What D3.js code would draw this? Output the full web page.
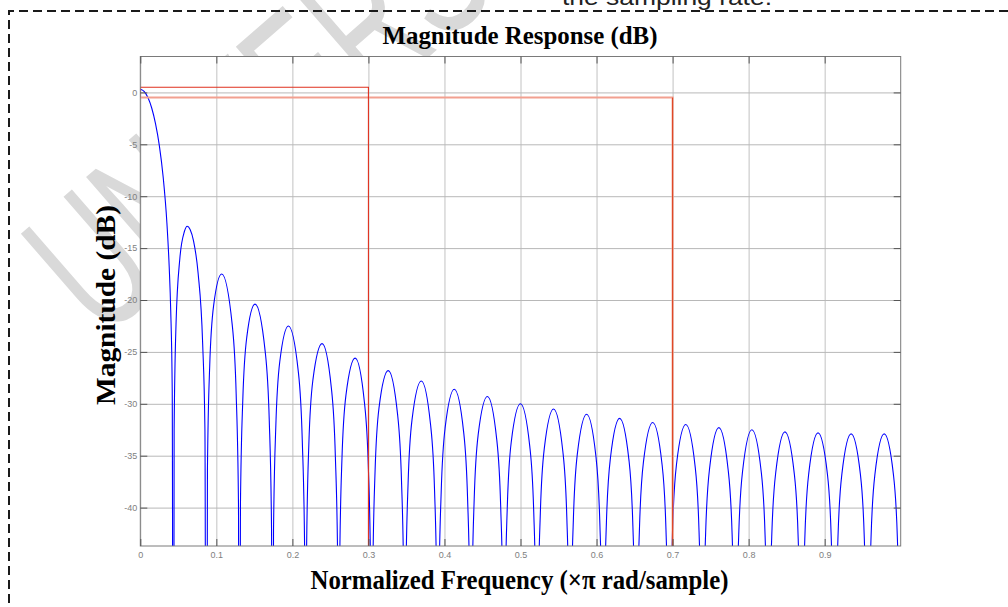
<!DOCTYPE html>
<html><head><meta charset="utf-8">
<script src="https://cdn.jsdelivr.net/npm/d3@7"></script>
<style>html,body{margin:0;padding:0;background:#fff;overflow:hidden}</style>
</head><body>
<svg id="c" width="1008" height="607"></svg>
<script>
// ---- data ----
const xTicks = [0, 0.1, 0.2, 0.3, 0.4, 0.5, 0.6, 0.7, 0.8, 0.9];
const yTicks = [0, -5, -10, -15, -20, -25, -30, -35, -40];
const xDomain = [0, 1];
const yDomain = [-43.7, 3.46];

// magnitude response samples (normalized frequency, dB); nulls drawn below the axis floor
const freq = [
  0, 0.005, 0.01, 0.015, 0.02, 0.025, 0.03, 0.035, 0.038, 0.04, 0.042, 0.0435,
  0.0445, 0.047, 0.052, 0.058, 0.0617, 0.0655, 0.070, 0.076, 0.082, 0.085, 0.0870,
  0.0883, 0.0913, 0.0965, 0.1070, 0.1209, 0.1261, 0.1291, 0.1304,
  0.1317, 0.1348, 0.1400, 0.1509, 0.1643, 0.1696, 0.1726, 0.1739,
  0.1752, 0.1783, 0.1835, 0.1948, 0.2078, 0.2130, 0.2161, 0.2174,
  0.2187, 0.2217, 0.2270, 0.2391, 0.2513, 0.2565, 0.2596, 0.2609,
  0.2622, 0.2652, 0.2704, 0.2826, 0.2948, 0.3000, 0.3030, 0.3043,
  0.3057, 0.3087, 0.3139, 0.3261, 0.3383, 0.3435, 0.3465, 0.3478,
  0.3491, 0.3522, 0.3574, 0.3696, 0.3817, 0.3870, 0.3900, 0.3913,
  0.3926, 0.3957, 0.4009, 0.4130, 0.4252, 0.4304, 0.4335, 0.4348,
  0.4361, 0.4391, 0.4443, 0.4565, 0.4687, 0.4739, 0.4770, 0.4783,
  0.4796, 0.4826, 0.4878, 0.5000, 0.5122, 0.5174, 0.5204, 0.5217,
  0.5230, 0.5261, 0.5313, 0.5435, 0.5557, 0.5609, 0.5639, 0.5652,
  0.5665, 0.5696, 0.5748, 0.5870, 0.5991, 0.6043, 0.6074, 0.6087,
  0.6100, 0.6130, 0.6183, 0.6304, 0.6426, 0.6478, 0.6509, 0.6522,
  0.6535, 0.6565, 0.6617, 0.6739, 0.6861, 0.6913, 0.6943, 0.6957,
  0.6970, 0.7000, 0.7052, 0.7174, 0.7296, 0.7348, 0.7378, 0.7391,
  0.7404, 0.7435, 0.7487, 0.7609, 0.7730, 0.7783, 0.7813, 0.7826,
  0.7839, 0.7870, 0.7922, 0.8043, 0.8165, 0.8217, 0.8248, 0.8261,
  0.8274, 0.8304, 0.8357, 0.8478, 0.8600, 0.8652, 0.8683, 0.8696,
  0.8709, 0.8739, 0.8791, 0.8913, 0.9035, 0.9087, 0.9117, 0.9130,
  0.9143, 0.9174, 0.9226, 0.9348, 0.9470, 0.9522, 0.9552, 0.9565,
  0.9578, 0.9609, 0.9661, 0.9783, 0.9904, 0.9957, 0.9987, 1.0
];
const magDb = [
  0.3, 0.1, -0.5, -1.5, -3.0, -5.1, -8.1, -12.6, -16.8, -21.0, -28.8, -90,
  -32.5, -22.3, -16.0, -13.4, -12.9, -13.2, -14.3, -17.4, -24.2, -32.5, -90,
  -36.3, -26.3, -20.5, -17.5, -22.4, -29.1, -39.6, -90,
  -39.8, -29.6, -23.6, -20.4, -25.0, -31.6, -42.1, -90,
  -42.2, -32.0, -25.9, -22.5, -26.9, -33.5, -43.9, -90,
  -44.0, -33.8, -27.7, -24.2, -28.5, -35.0, -45.4, -90,
  -45.5, -35.3, -29.2, -25.6, -29.9, -36.3, -46.7, -90,
  -46.8, -36.6, -30.4, -26.8, -31.0, -37.4, -47.8, -90,
  -47.9, -37.6, -31.5, -27.8, -32.0, -38.4, -48.8, -90,
  -48.8, -38.5, -32.3, -28.6, -32.7, -39.1, -49.5, -90,
  -49.5, -39.2, -33.0, -29.3, -33.4, -39.8, -50.2, -90,
  -50.3, -40.0, -33.7, -30.0, -34.1, -40.4, -50.8, -90,
  -50.8, -40.5, -34.3, -30.5, -34.6, -40.9, -51.3, -90,
  -51.3, -41.0, -34.8, -31.0, -35.0, -41.4, -51.7, -90,
  -51.8, -41.4, -35.2, -31.4, -35.4, -41.8, -52.1, -90,
  -52.2, -41.9, -35.6, -31.8, -35.8, -42.1, -52.5, -90,
  -52.4, -42.1, -35.8, -32.0, -36.0, -42.3, -52.7, -90,
  -52.7, -42.4, -36.2, -32.3, -36.3, -42.6, -52.9, -90,
  -52.9, -42.6, -36.4, -32.5, -36.5, -42.8, -53.1, -90,
  -53.2, -42.8, -36.6, -32.7, -36.7, -43.0, -53.3, -90,
  -53.3, -43.0, -36.7, -32.8, -36.7, -43.0, -53.4, -90,
  -53.4, -43.1, -36.8, -32.9, -36.8, -43.1, -53.4, -90,
  -53.4, -43.1, -36.8, -32.9, -36.8, -43.1, -53.4, -90
];

// specification mask (red)
const passMaskFreq = [0, 0, 0.3, 0.3];
const passMaskDb   = [-0.5, 0.5, 0.5, -43.7];
const stopMaskFreq = [0, 0.7, 0.7];
const stopMaskDb   = [-0.5, -0.5, -43.7];

const titleText = "Magnitude Response (dB)";
const xLabelText = "Normalized Frequency (\u00D7\u03C0 rad/sample)";
const yLabelText = "Magnitude (dB)";
const topText = "the sampling rate.";
const watermarkText = "UNIVERSITY";

// ---- drawing ----
const W = 1008, H = 607;
const M = {left: 140.3, right: 900.7, top: 56.5, bottom: 546};
const x = d3.scaleLinear().domain(xDomain).range([M.left, M.right]);
const y = d3.scaleLinear().domain(yDomain).range([M.bottom, M.top]);
const svg = d3.select('#c');
const serif = "'Liberation Serif','Times New Roman',serif";
const sans = "'Liberation Sans',Arial,sans-serif";

// watermark (behind everything)
svg.append('text')
  .attr('transform', 'translate(102,341) rotate(-41) scale(0.61,1)')
  .attr('font-family', sans).attr('font-size', 195).attr('fill', '#d9d9d9')
  .text(watermarkText);

// cut-off text at the top
svg.append('text').attr('x', 562).attr('y', 5)
  .attr('font-family', sans).attr('font-size', 22).attr('fill', '#222')
  .attr('textLength', 210).attr('lengthAdjust', 'spacingAndGlyphs')
  .text(topText);

// dashed page border
svg.append('path')
  .attr('d', `M9,${H + 10} L9,11 L${W + 10},11`)
  .attr('fill', 'none').attr('stroke', '#1a1a1a').attr('stroke-width', 2)
  .attr('stroke-dasharray', '9,5');

// plot background
svg.append('rect').attr('x', M.left).attr('y', M.top)
  .attr('width', M.right - M.left).attr('height', M.bottom - M.top).attr('fill', '#fff');

// grid
const gx = svg.append('g').attr('transform', `translate(0,${M.bottom})`)
  .call(d3.axisBottom(x).tickValues(xTicks).tickSize(-(M.bottom - M.top)).tickFormat(''));
gx.select('.domain').remove();
gx.selectAll('line').attr('stroke', '#c2c2c2').attr('stroke-width', 1);
const gy = svg.append('g').attr('transform', `translate(${M.left},0)`)
  .call(d3.axisLeft(y).tickValues(yTicks).tickSize(-(M.right - M.left)).tickFormat(''));
gy.select('.domain').remove();
gy.selectAll('line').attr('stroke', '#b8b8b8').attr('stroke-width', 1);

// clip
svg.append('clipPath').attr('id', 'clip').append('rect')
  .attr('x', M.left).attr('y', M.top)
  .attr('width', M.right - M.left).attr('height', M.bottom - M.top);

// curve
const pts = freq.map((f, i) => [f, magDb[i]]);
const line = d3.line().x(d => x(d[0])).y(d => y(d[1])).curve(d3.curveMonotoneX);
svg.append('path').attr('clip-path', 'url(#clip)')
  .attr('d', line(pts)).attr('fill', 'none').attr('stroke', '#0000ff').attr('stroke-width', 1.1);

// masks
const lin = d3.line().x(d => x(d[0])).y(d => y(d[1]));
svg.append('path').attr('clip-path', 'url(#clip)')
  .attr('d', lin(stopMaskFreq.map((f, i) => [f, stopMaskDb[i]])))
  .attr('fill', 'none').attr('stroke', '#f2a090').attr('stroke-width', 2);
svg.append('path').attr('clip-path', 'url(#clip)')
  .attr('d', lin(stopMaskFreq.slice(1).map((f, i) => [f, stopMaskDb[i + 1]])))
  .attr('fill', 'none').attr('stroke', '#e0401e').attr('stroke-width', 1);
svg.append('path').attr('clip-path', 'url(#clip)')
  .attr('d', lin(passMaskFreq.map((f, i) => [f, passMaskDb[i]])))
  .attr('fill', 'none').attr('stroke', '#e0301e').attr('stroke-width', 1.1);

// box
svg.append('rect').attr('x', M.left).attr('y', M.top)
  .attr('width', M.right - M.left).attr('height', M.bottom - M.top)
  .attr('fill', 'none').attr('stroke', '#7a7a7a').attr('stroke-width', 1);

function styleAxis(g) {
  g.select('.domain').remove();
  g.selectAll('line').attr('stroke', '#555').attr('stroke-width', 1);
  g.attr('font-family', sans).attr('font-size', 9);
  g.selectAll('text').attr('fill', '#808080');
}
const fmt = d => String(d);
svg.append('g').attr('transform', `translate(0,${M.bottom})`)
  .call(d3.axisBottom(x).tickValues(xTicks).tickSize(-7).tickPadding(6).tickFormat(fmt)).call(styleAxis);
svg.append('g').attr('transform', `translate(${M.left},0)`)
  .call(d3.axisLeft(y).tickValues(yTicks).tickSize(-7).tickPadding(3).tickFormat(fmt)).call(styleAxis);
svg.append('g').attr('transform', `translate(0,${M.top})`)
  .call(d3.axisTop(x).tickValues(xTicks).tickSize(-7).tickFormat('')).call(styleAxis);
svg.append('g').attr('transform', `translate(${M.right},0)`)
  .call(d3.axisRight(y).tickValues(yTicks).tickSize(-7).tickFormat('')).call(styleAxis);

// titles
svg.append('text').attr('x', 520).attr('y', 43.5).attr('text-anchor', 'middle')
  .attr('font-family', serif).attr('font-weight', 'bold').attr('font-size', 25)
  .attr('textLength', 275).attr('lengthAdjust', 'spacingAndGlyphs')
  .text(titleText);
svg.append('text').attr('x', 519.5).attr('y', 589).attr('text-anchor', 'middle')
  .attr('font-family', serif).attr('font-weight', 'bold').attr('font-size', 27)
  .attr('textLength', 418).attr('lengthAdjust', 'spacingAndGlyphs')
  .text(xLabelText);
svg.append('text').attr('transform', 'translate(115,305) rotate(-90)').attr('text-anchor', 'middle')
  .attr('font-family', serif).attr('font-weight', 'bold').attr('font-size', 27)
  .attr('textLength', 200).attr('lengthAdjust', 'spacingAndGlyphs')
  .text(yLabelText);
</script>
</body></html>
